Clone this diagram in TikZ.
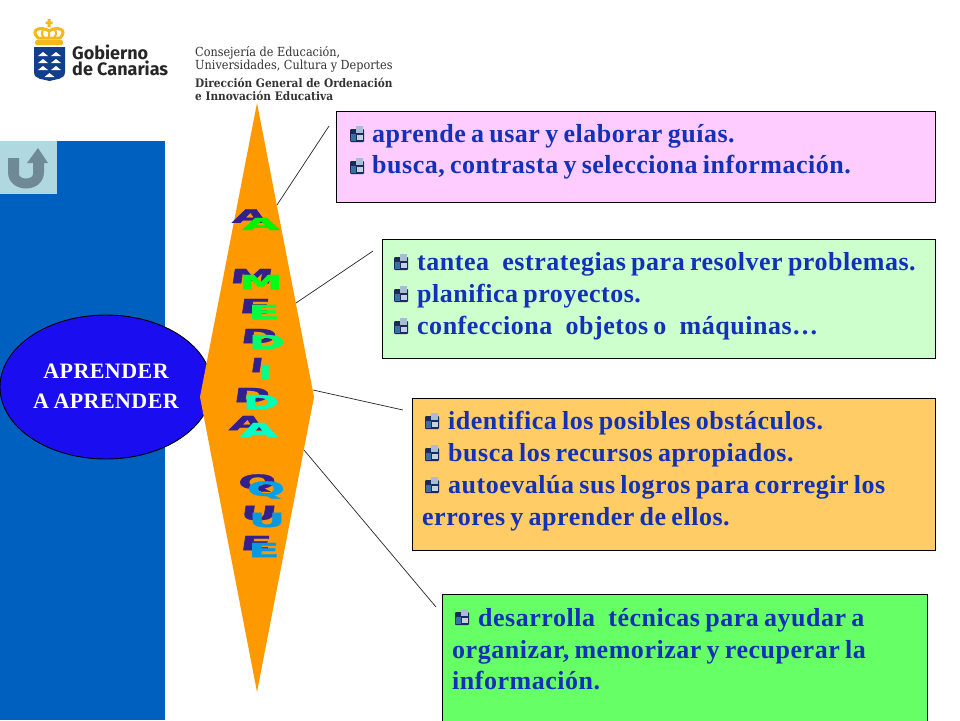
\documentclass[tikz,border=0pt]{standalone}
\usepackage{fontspec}
\setmainfont{Liberation Serif}
\newfontfamily\bodyf[LetterSpace=2,WordSpace=0.75]{Liberation Serif}
\newfontfamily\logofont{Fira Sans}
\newfontfamily\deptfont{DejaVu Serif Condensed}
\newfontfamily\artfont[BoldFeatures={FakeBold=1.5}]{DejaVu Sans}
\definecolor{txtblue}{HTML}{1230B8}
\definecolor{panelblue}{HTML}{0060C0}
\definecolor{orangeD}{HTML}{FF9900}
\definecolor{shad}{HTML}{33208C}
\definecolor{crown}{HTML}{F5B81C}
\definecolor{shield}{HTML}{123F8C}
\definecolor{btn}{HTML}{B0D8E0}
\definecolor{btnicon}{HTML}{6F8A96}
\definecolor{bnavy}{HTML}{1A2A5A}
\definecolor{blight}{HTML}{A8BCD4}
\definecolor{bmid}{HTML}{3A6EA5}
\definecolor{bpale}{HTML}{C4D2E0}
\tikzset{
  x=1pt,y=-1pt,
  box/.style={draw=black,line width=0.9pt},
  tline/.style={anchor=base west,inner sep=0pt,text=txtblue,font=\bodyf\fontsize{26}{26}\selectfont\bfseries},
  link/.style={draw=black!85,line width=0.7pt},
  dept/.style={anchor=base west,inner sep=0pt,align=left,font=\deptfont\fontsize{12.5}{13}\selectfont,text=black!80},
  deptb/.style={anchor=base west,inner sep=0pt,align=left,font=\deptfont\fontsize{11.75}{13}\selectfont\bfseries,text=black!80},
  logot/.style={anchor=base west,inner sep=0pt,align=left,font=\logofont\bfseries\fontsize{18}{16}\selectfont,text=black!85},
  shadl/.style={inner sep=0pt,text=shad,transform shape,xslant=.15},
  facel/.style={inner sep=0pt},
}
\newcommand{\bul}[2]{%
  \fill[bnavy,rounded corners=1pt] (#1-7,#2-5) rectangle (#1+7,#2+8);
  \fill[blight] (#1-1,#2-8) rectangle (#1+6,#2-1);
  \fill[bpale] (#1,#2+1) rectangle (#1+6,#2+6);
  \fill[bmid] (#1-6,#2) rectangle (#1-1,#2+7);
}
\newcommand{\art}[7]{% style colour x y sx sy letter
  \node[#1,text=#2] at (#3,#4) {\artfont\bfseries\fontsize{19.5}{20}\selectfont\scalebox{#5}[#6]{#7}};
}
\begin{document}
\begin{tikzpicture}
\useasboundingbox (0,0) rectangle (960,720);
\fill[white] (0,0) rectangle (960,720);
% left panel
\fill[panelblue] (0,141) rectangle (165,720);
\fill[btn] (0,141) rectangle (57,194);
\fill[btnicon] (8,158) -- (19,158) -- (19,174) .. controls (19,180) and (33,180) .. (33,174) -- (33,163) -- (27,163) -- (38,148) -- (48,163) -- (44,163) -- (44,172) .. controls (44,194) and (8,194) .. (8,172) -- cycle;
% logo
\draw[crown,line width=3pt,fill=white,line join=round] (38,38) .. controls (29,29) and (42,26) .. (49,31) .. controls (56,26) and (69,29) .. (60,38) -- cycle;
\draw[crown,line width=2pt] (49,31) -- (49,38) (43,30) .. controls (41,33) and (42,36) .. (44,38) (55,30) .. controls (57,33) and (56,36) .. (54,38);
\fill[crown] (47.5,19) rectangle (50.5,27) (45.5,21.5) rectangle (52.5,24);
\fill[crown,rounded corners=1.5pt] (35,40) rectangle (63,45);
\fill[shield] (34,47) -- (65,47) -- (65,72) .. controls (65,80) and (55,79) .. (49.5,81) .. controls (44,79) and (34,80) .. (34,72) -- cycle;
\foreach \px/\py in {43/56,56/56,43/63,56/63,43/70,56/70,49.5/77}{\fill[white] (\px-5,\py) -- (\px,\py-4) -- (\px+5,\py) -- cycle;}
\node[logot] (g1) at (72,75) {Gobierno\\de Canarias};
\node[dept] (d1) at (195,69) {Consejería de Educación,\\Universidades, Cultura y Deportes};
\node[deptb] (d3) at (195,100) {Dirección General de Ordenación\\e Innovación Educativa};
% connectors
\coordinate (c1a) at (277,205); \coordinate (c1b) at (329,126);
\coordinate (c2a) at (296,303); \coordinate (c2b) at (373,251);
\coordinate (c3a) at (313,390); \coordinate (c3b) at (403,410);
\coordinate (c4a) at (304,450); \coordinate (c4b) at (436,607);
\draw[link] (c1a) -- (c1b);
\draw[link] (c2a) -- (c2b);
\draw[link] (c3a) -- (c3b);
\draw[link] (c4a) -- (c4b);
% ellipse
\draw[black,line width=0.9pt,fill={rgb,255:red,26;green,13;blue,240}] (106,387) ellipse [x radius=106,y radius=72];
% diamond
\fill[orangeD] (257,103) -- (314,397) -- (257,692) -- (200,397) -- cycle;
\node[inner sep=0pt,text=white,align=center,font=\bodyf\fontsize{22}{30}\selectfont\bfseries] (aa) at (106,386) {APRENDER\\A APRENDER};
% boxes
\draw[box,fill={rgb,255:red,255;green,204;blue,255}] (336,111) rectangle (935,202);
\draw[box,fill={rgb,255:red,204;green,255;blue,204}] (382,239) rectangle (935,358);
\draw[box,fill={rgb,255:red,255;green,204;blue,102}] (412,398) rectangle (935,550);
\draw[box,fill={rgb,255:red,102;green,255;blue,102}] (442,594) rectangle (927,730);
% text
\bul{357}{134}\bul{357}{166}
\node[tline] at (372,142) {aprende a usar y elaborar guías.};
\node[tline] at (372,173) {busca, contrasta y selecciona información.};
\bul{401}{262}\bul{401}{294}\bul{401}{326}
\node[tline] at (417,270) {tantea\hspace{8pt} estrategias para resolver problemas.};
\node[tline] at (417,302) {planifica proyectos.};
\node[tline] at (417,334) {confecciona\hspace{8pt} objetos o\hspace{8pt} máquinas…};
\bul{432}{421}\bul{432}{453}\bul{432}{485}
\node[tline] at (448,429) {identifica los posibles obstáculos.};
\node[tline] at (448,461) {busca los recursos apropiados.};
\node[tline] at (448,493) {autoevalúa sus logros para corregir los};
\node[tline] at (422,525) {errores y aprender de ellos.};
\bul{462}{617}
\node[tline] at (478,626) {desarrolla\hspace{8pt} técnicas para ayudar a};
\node[tline] at (452,658) {organizar, memorizar y recuperar la};
\node[tline] at (452,689) {información.};
% word art
\art{shadl}{shad}{250}{216}{2.3}{.95}{A}
\art{facel}{green!95!black}{261}{224}{2.5}{.85}{A}
\art{shadl}{shad}{252}{276}{2.25}{1}{M}
\art{facel}{green!90!cyan}{261}{282}{2.25}{1}{M}
\art{shadl}{shad}{255}{306}{2.35}{1}{E}
\art{facel}{green!75!cyan}{264}{312}{2.35}{1}{E}
\art{shadl}{shad}{259}{336}{2.25}{1}{D}
\art{facel}{green!60!cyan}{267}{342}{2.25}{1}{D}
\art{shadl}{shad}{257}{365}{1.85}{1}{I}
\art{facel}{green!45!cyan}{265}{372}{1.85}{1}{I}
\art{shadl}{shad}{252}{395}{2.25}{1}{D}
\art{facel}{green!30!cyan}{261}{402}{2.25}{1}{D}
\art{shadl}{shad}{247}{423}{2.3}{1}{A}
\art{facel}{green!20!cyan}{259}{430}{2.5}{1}{A}
\art{shadl}{shad}{257}{483}{2.3}{1}{Q}
\art{facel}{cyan!90!blue}{266}{490}{2.3}{1}{Q}
\art{shadl}{shad}{259}{513}{2.3}{1}{U}
\art{facel}{cyan!85!blue}{267}{520}{2.3}{1}{U}
\art{shadl}{shad}{256}{543}{2.35}{1}{E}
\art{facel}{cyan!85!blue}{264}{550}{2.35}{1}{E}
\end{tikzpicture}
\end{document}
